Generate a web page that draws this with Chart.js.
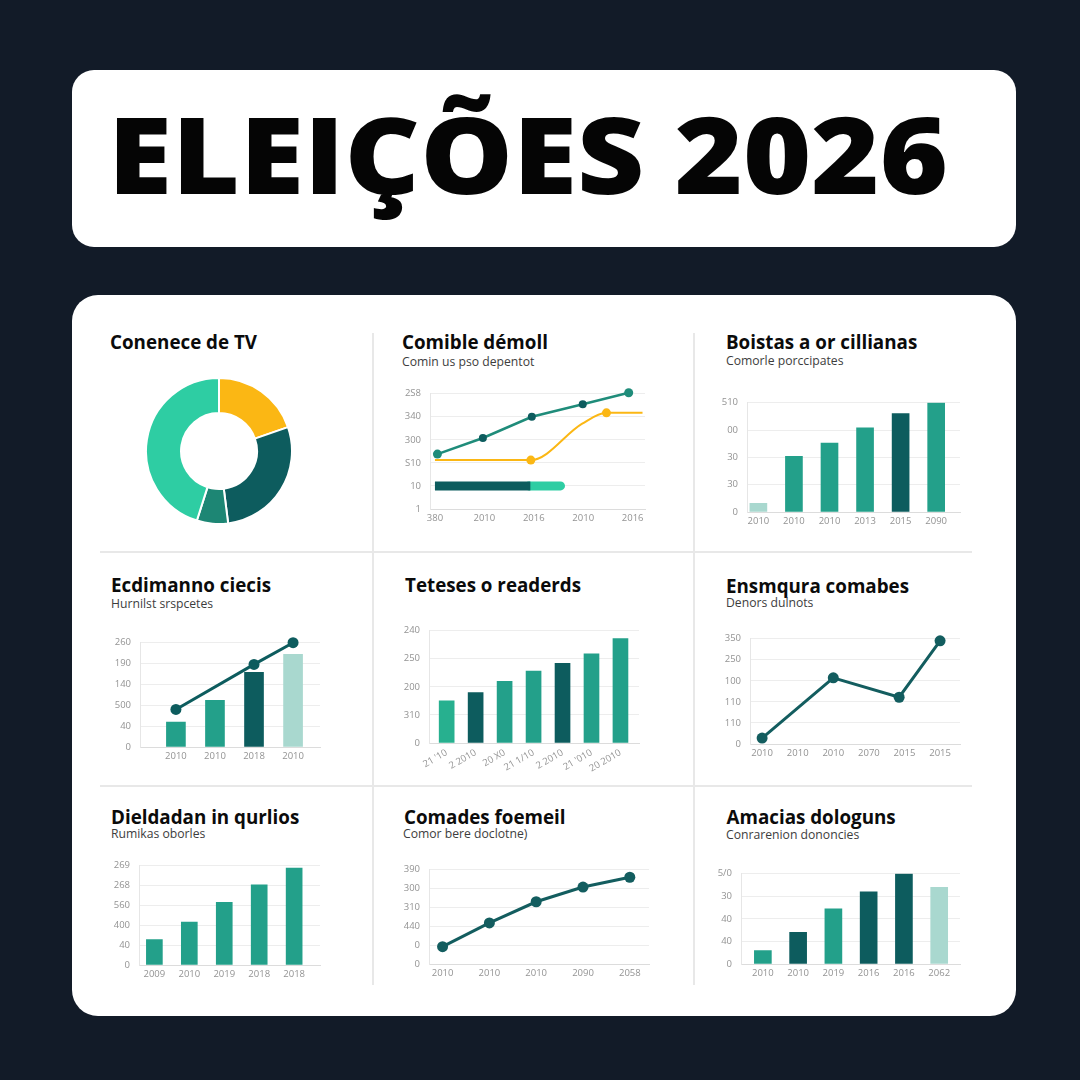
<!DOCTYPE html>
<html>
<head>
<meta charset="utf-8">
<script src="https://cdn.jsdelivr.net/npm/chart.js@4.4.1/dist/chart.umd.min.js"></script>
<style>
  html,body{margin:0;padding:0;}
  body{width:1080px;height:1080px;background:#121b28;position:relative;overflow:hidden;font-family:'Open Sans',sans-serif;}
  .box{position:absolute;background:#fff;}
  .line{position:absolute;background:#e8e8e8;}
  .t{position:absolute;white-space:nowrap;line-height:1;}
  canvas{position:absolute;}
</style>
</head>
<body>
<div class="box" style="left:72px;top:70px;width:944px;height:177px;border-radius:22px;"></div>
<div class="box" style="left:72px;top:295px;width:944px;height:721px;border-radius:26px;"></div>
<div class="line" style="left:372px;top:333px;width:1.5px;height:652px;"></div>
<div class="line" style="left:693px;top:333px;width:1.5px;height:652px;"></div>
<div class="line" style="left:100px;top:551px;width:872px;height:1.5px;"></div>
<div class="line" style="left:100px;top:785px;width:872px;height:1.5px;"></div>
<div id="root"></div>
<script>
// ---------- data ----------
const mainTitle = 'ELEIÇÕES 2026';
const panelTitles = ['Conenece de TV','Comible démoll','Boistas a or cillianas','Ecdimanno ciecis','Teteses o readerds','Ensmqura comabes','Dieldadan in qurlios','Comades foemeil','Amacias dologuns'];
const panelSubtitles = ['','Comin us pso depentot','Comorle porccipates','Hurnilst srspcetes','','Denors dulnots','Rumikas oborles','Comor bere doclotne)','Conrarenion dononcies'];

const donutLabels = ['Amarelo','Escuro','Médio','Claro'];
const donutValues = [19.7, 28.3, 6.9, 45.1];

const p2XLabels = ['380','2010','2016','2010','2016'];
const p2YLabels = ['1','10','S10','300','340','2S8'];
const p2GreenX = [0.05, 0.97, 1.96, 2.99, 3.92];
const p2GreenY = [2.38, 3.08, 4.0, 4.54, 5.04];
const p2YellowX = [0, 1.94, 2.98, 3.47, 4.2];
const p2YellowY = [2.12, 2.12, 3.7, 4.17, 4.17];
const p2BarDarkX = [0, 1.93];
const p2BarLightX = [1.9, 2.54];
const p2BarLevel = 1;

const p3XLabels = ['2010','2010','2010','2013','2015','2090'];
const p3YLabels = ['0','30','30','00','510'];
const p3Values = [8, 51, 63, 77, 90, 100];

const p4XLabels = ['2010','2010','2018','2010'];
const p4YLabels = ['0','40','500','140','190','260'];
const p4Bars = [60, 112, 179, 222];
const p4Line = [90, null, 198, 250];

const p5XLabels = ["21 '10","2 2010","20 X0","21 1/10","2 2010","21 '010","20 2010"];
const p5YLabels = ['0','310','200','250','240'];
const p5Values = [75, 90, 110, 128, 142, 159, 186];

const p6XLabels = ['2010','2010','2010','2070','2015','2015'];
const p6YLabels = ['0','110','110','100','250','350'];
const p6X = [0, 2, 3.85, 5];
const p6Y = [14, 157, 111, 245];

const p7XLabels = ['2009','2010','2019','2018','2018'];
const p7YLabels = ['0','40','400','560','268','269'];
const p7Values = [64, 108, 158, 202, 244];

const p8XLabels = ['2010','2010','2010','2090','2058'];
const p8YLabels = ['0','0','440','310','300','390'];
const p8Values = [46, 109, 165, 204, 230];

const p9XLabels = ['2010','2010','2019','2016','2016','2062'];
const p9YLabels = ['0','40','40','30','5/0'];
const p9Values = [15, 35, 61, 80, 100, 85];

// ---------- styles ----------
const TEAL='#23a08a', DARK='#0d5c5e', PALE='#a9d8cf', BRIGHT='#2ecda3', BRIGHT2='#27b08f', YELLOW='#fbb714', MED='#1d8674', GLINE='#1f8c7a';
const TICK='#939393';
const WY=40, PT=10, PR=14;

Chart.defaults.animation=false;
Chart.defaults.font.family="'Open Sans', sans-serif";
Chart.defaults.plugins.legend.display=false;
Chart.defaults.plugins.tooltip.enabled=false;

const root=document.getElementById('root');
function text(str, x, baseline, size, weight, color){
  if(!str) return;
  const d=document.createElement('div');
  d.className='t';
  d.textContent=str;
  d.style.left=x+'px';
  d.style.top=(baseline-0.888*size)+'px';
  d.style.fontSize=size+'px';
  d.style.fontWeight=weight;
  d.style.color=color;
  root.appendChild(d);
  return d;
}
// title
const tt=text(mainTitle,108,194,107,800,'#050505');
tt.style.transformOrigin='0 0';
const tw=tt.getBoundingClientRect().width;
tt.style.transform='scaleX('+(840/tw)+')';

const titlePos=[[110,350],[402,349.5],[726,349.5],[111,592.7],[405,592.7],[726,593.3],[111,825],[404,825],[726.5,825]];
const subPos=[[0,0],[402,366.7],[726,366],[111,609],[0,0],[726,608.3],[111,839.3],[403,839.3],[726,840]];
panelTitles.forEach((s,i)=>text(s,titlePos[i][0],titlePos[i][1],18.8,700,'#0b0b0b'));
panelSubtitles.forEach((s,i)=>text(s,subPos[i][0],subPos[i][1],12.2,400,'#3d3d3d'));

function xAxis(labels,min,max,hx,rot){
  hx=hx||24;
  return {type:'linear',min,max,offset:false,
    afterBuildTicks:a=>{a.ticks=labels.map((_,i)=>({value:i}));},
    afterFit:a=>{a.height=hx;},
    grid:{display:false,offset:false,drawTicks:false},
    border:{display:true,color:'#dcdcdc',width:1},
    ticks:{callback:v=>labels[Math.round(v)],color:TICK,font:{size:9.5},padding:4,autoSkip:false,
      maxRotation:rot||0,minRotation:rot||0}};
}
function yAxis(labels,step){
  return {type:'linear',min:0,max:(labels.length-1)*step,
    afterBuildTicks:a=>{a.ticks=labels.map((_,i)=>({value:i*step}));},
    afterFit:a=>{a.width=WY;},
    grid:{color:'#ededed',drawTicks:false,lineWidth:1},
    border:{display:true,color:'#e6e6e6'},
    ticks:{callback:v=>labels[Math.round(v/step)],color:TICK,font:{size:9.5},padding:9,autoSkip:false}};
}
function place(area,cfg,hx){
  hx=hx||24;
  const c=document.createElement('canvas');
  const w=area.R-area.L+WY+PR, h=area.B-area.T+PT+hx;
  c.width=w;c.height=h;
  c.style.left=(area.L-WY)+'px';c.style.top=(area.T-PT)+'px';
  c.style.width=w+'px';c.style.height=h+'px';
  root.appendChild(c);
  cfg.options=Object.assign({responsive:false,devicePixelRatio:1,
    layout:{autoPadding:false,padding:{left:0,top:PT,right:PR,bottom:0}}},cfg.options);
  return new Chart(c,cfg);
}
const pts=(xs,ys)=>ys.map((y,i)=>({x:xs?xs[i]:i,y})).filter(p=>p.y!==null);

// Panel 1 donut
(function(){
  const c=document.createElement('canvas');
  c.width=150;c.height=150;c.style.left='144px';c.style.top='376px';
  root.appendChild(c);
  new Chart(c,{type:'doughnut',data:{labels:donutLabels,datasets:[{data:donutValues,
    backgroundColor:[YELLOW,DARK,MED,BRIGHT],borderColor:'#ffffff',borderWidth:2}]},
    options:{responsive:false,devicePixelRatio:1,cutout:'52%',layout:{padding:1}}});
})();

// Panel 2 lines
place({L:430,T:389,R:645,B:509},{type:'line',data:{datasets:[
  {data:pts(p2BarLightX,[p2BarLevel,p2BarLevel]),borderColor:BRIGHT,borderWidth:9,borderCapStyle:'round',pointRadius:0,order:3},
  {data:pts(p2BarDarkX,[p2BarLevel,p2BarLevel]),borderColor:DARK,borderWidth:9,borderCapStyle:'butt',pointRadius:0,order:2},
  {data:pts(p2YellowX,p2YellowY),borderColor:YELLOW,borderWidth:2,pointRadius:[0,4.5,0,4.5,0],pointBorderWidth:0,
   pointBackgroundColor:YELLOW,cubicInterpolationMode:'monotone',clip:false,order:1},
  {data:pts(p2GreenX,p2GreenY),borderColor:GLINE,borderWidth:2.5,pointRadius:[4.5,4,4,4,4.5],pointBorderWidth:0,
   pointBackgroundColor:[GLINE,DARK,DARK,DARK,GLINE],tension:0,clip:false,order:0}
]},options:{scales:{x:xAxis(p2XLabels,-0.1,4.25,24),y:yAxis(p2YLabels,1)}}});

function barChart(area,labels,ylabels,step,values,colors,min,max,thick,hx,rot,extra){
  hx=hx||24;
  const ds=[{type:'bar',data:pts(null,values),backgroundColor:colors,barThickness:thick,order:1}];
  if(extra) ds.push(extra);
  return place(area,{type:'bar',data:{datasets:ds},
    options:{scales:{x:xAxis(labels,min,max,hx,rot),y:yAxis(ylabels,step)}}},hx);
}

// Panel 3
barChart({L:747,T:398,R:960,B:512},p3XLabels,p3YLabels,25,p3Values,[PALE,TEAL,TEAL,TEAL,DARK,TEAL],-0.32,5.67,17);
// Panel 4
barChart({L:140,T:638,R:320,B:747},p4XLabels,p4YLabels,50,p4Bars,[TEAL,TEAL,DARK,PALE],-0.92,3.69,19,24,0,
  {type:'line',data:pts(null,p4Line),borderColor:DARK,borderWidth:3,pointRadius:5.5,pointBackgroundColor:DARK,pointBorderWidth:0,order:0,clip:false});
// Panel 5
barChart({L:429,T:626,R:639,B:743},p5XLabels,p5YLabels,50,p5Values,[BRIGHT2,DARK,TEAL,TEAL,DARK,TEAL,TEAL],-0.61,6.64,15,36,30);
// Panel 6
place({L:750,T:634,R:960,B:744},{type:'line',data:{datasets:[
  {data:pts(p6X,p6Y),borderColor:'#135d5f',borderWidth:3,pointRadius:5.5,pointBackgroundColor:'#135d5f',pointBorderWidth:0,tension:0,clip:false}
]},options:{scales:{x:xAxis(p6XLabels,-0.34,5.56,24),y:yAxis(p6YLabels,50)}}});
// Panel 7
barChart({L:139,T:861,R:320,B:965},p7XLabels,p7YLabels,50,p7Values,TEAL,-0.44,4.74,16);
// Panel 8
place({L:429,T:865,R:649,B:964},{type:'line',data:{datasets:[
  {data:pts(null,p8Values),borderColor:'#135d5f',borderWidth:3,pointRadius:5.5,pointBackgroundColor:'#135d5f',pointBorderWidth:0,tension:0,clip:false}
]},options:{scales:{x:xAxis(p8XLabels,-0.29,4.41,24),y:yAxis(p8YLabels,50)}}});
// Panel 9
barChart({L:741,T:869,R:960,B:964},p9XLabels,p9YLabels,25,p9Values,[TEAL,DARK,TEAL,DARK,DARK,PALE],-0.62,5.59,17);
</script>
</body>
</html>
